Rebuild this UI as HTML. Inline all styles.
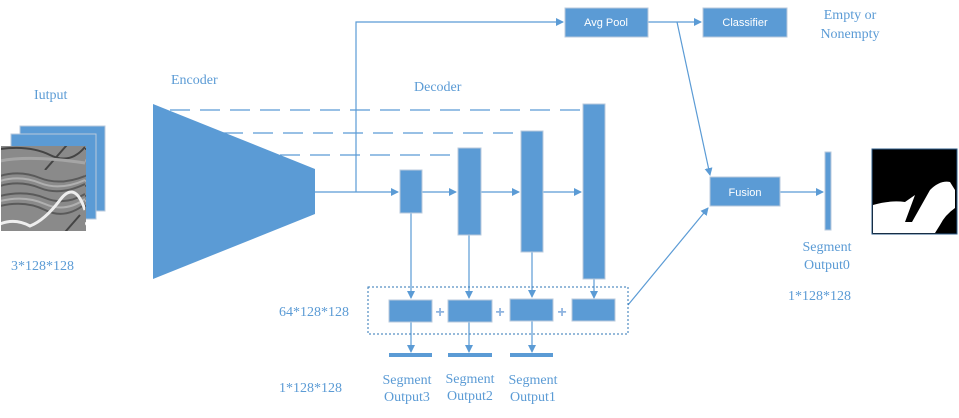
<!DOCTYPE html>
<html><head><meta charset="utf-8"><style>
body{margin:0;background:#fff}
svg text{font-family:"Liberation Serif",serif;fill:#5b9bd5;font-size:14px}
.s{font-family:"Liberation Sans",sans-serif;fill:#fff;font-size:11px}
</style></head><body>
<svg width="959" height="413" viewBox="0 0 959 413">
<defs>
<marker id="a" markerWidth="8" markerHeight="8" refX="7" refY="4" orient="auto" markerUnits="userSpaceOnUse"><path d="M0,0 L8,4 L0,8z" fill="#5b9bd5"/></marker>
<pattern id="seis" width="85" height="85" patternUnits="userSpaceOnUse">
<rect width="85" height="85" fill="#8a8a8a"/>
<path d="M0,6 Q20,0 40,8 T85,6 M0,16 Q20,10 40,18 T85,14 M0,26 Q25,20 45,28 T85,24 M0,36 Q25,30 45,40 T85,34" stroke="#5a5a5a" stroke-width="2" fill="none"/>
<path d="M0,11 Q20,5 40,13 T85,10 M0,31 Q25,25 45,34 T85,29" stroke="#b0b0b0" stroke-width="2" fill="none"/>
<path d="M0,54 Q15,48 30,56 Q45,50 60,30 T85,40" stroke="#eee" stroke-width="3" fill="none"/>
<path d="M0,64 Q30,60 50,70 T85,62 M45,85 L80,45" stroke="#444" stroke-width="2" fill="none"/>
<path d="M0,76 Q30,70 85,78" stroke="#a5a5a5" stroke-width="3" fill="none"/>
</pattern>
</defs>
<g fill="#5b9bd5" stroke="#b8c9dc" stroke-width="1">
<rect x="20" y="126" width="85" height="85"/>
<rect x="11" y="134" width="85" height="85"/>
</g>
<rect x="1" y="146" width="85" height="85" fill="url(#seis)"/>
<polygon points="153,104 315,169 315,214 153,279" fill="#5b9bd5"/>
<g stroke="#5b9bd5" stroke-width="1.3" stroke-dasharray="20,10" fill="none">
<line x1="170" y1="110" x2="583" y2="110"/>
<line x1="223" y1="133" x2="520" y2="133"/>
<line x1="280" y1="155" x2="458" y2="155"/>
</g>
<g stroke="#5b9bd5" stroke-width="1.2" fill="none">
<line x1="315" y1="192" x2="398" y2="192" marker-end="url(#a)"/>
<polyline points="356,192 356,22 563,22" marker-end="url(#a)"/>
<line x1="648" y1="22" x2="701" y2="22" marker-end="url(#a)"/>
<line x1="677" y1="22" x2="710" y2="175" marker-end="url(#a)"/>
<line x1="628" y1="305" x2="708" y2="208" marker-end="url(#a)"/>
<line x1="780" y1="192" x2="823" y2="192" marker-end="url(#a)"/>
<line x1="422" y1="192" x2="456" y2="192" marker-end="url(#a)"/>
<line x1="481" y1="192" x2="519" y2="192" marker-end="url(#a)"/>
<line x1="543" y1="192" x2="581" y2="192" marker-end="url(#a)"/>
<line x1="411" y1="213" x2="411" y2="298" marker-end="url(#a)"/>
<line x1="469" y1="235" x2="469" y2="298" marker-end="url(#a)"/>
<line x1="532" y1="252" x2="532" y2="297" marker-end="url(#a)"/>
<line x1="594" y1="279" x2="594" y2="298" marker-end="url(#a)"/>
<line x1="411" y1="322" x2="411" y2="352" marker-end="url(#a)"/>
<line x1="469" y1="322" x2="469" y2="352" marker-end="url(#a)"/>
<line x1="532" y1="321" x2="532" y2="352" marker-end="url(#a)"/>
</g>
<g fill="#5b9bd5" stroke="#b8c9dc" stroke-width="1">
<rect x="400" y="170" width="22" height="43"/>
<rect x="458" y="148" width="23" height="87"/>
<rect x="521" y="131" width="22" height="121"/>
<rect x="583" y="104" width="22" height="175"/>
<rect x="389" y="300" width="43" height="22"/>
<rect x="448" y="300" width="44" height="22"/>
<rect x="510" y="299" width="43" height="22"/>
<rect x="572" y="299" width="43" height="22"/>
<rect x="565" y="8" width="83" height="29"/>
<rect x="703" y="8" width="84" height="29"/>
<rect x="710" y="177" width="70" height="29"/>
<rect x="825" y="152" width="6" height="78"/>
</g>
<g fill="#5b9bd5">
<rect x="389" y="353" width="43" height="4"/>
<rect x="448" y="353" width="44" height="4"/>
<rect x="510" y="353" width="43" height="4"/>
</g>
<text x="440" y="317" text-anchor="middle" style="fill:#8fb4e0;font-family:'Liberation Sans';font-size:16px;font-weight:bold">+</text>
<text x="500" y="317" text-anchor="middle" style="fill:#8fb4e0;font-family:'Liberation Sans';font-size:16px;font-weight:bold">+</text>
<text x="562" y="317" text-anchor="middle" style="fill:#8fb4e0;font-family:'Liberation Sans';font-size:16px;font-weight:bold">+</text>
<rect x="368" y="287" width="260" height="47" fill="none" stroke="#2e75b6" stroke-width="1" stroke-dasharray="2,2"/>
<rect x="872" y="149" width="85" height="85" fill="#000" stroke="#2e5c8a"/>
<path d="M873,205 Q890,200 905,202 L915,195 L905,222 L912,222 L930,190 Q940,180 950,182 L955,190 L955,208 Q945,215 940,225 L935,233 L873,233z" fill="#fff"/>
<text class="s" x="606" y="26" text-anchor="middle">Avg Pool</text>
<text class="s" x="745" y="26" text-anchor="middle">Classifier</text>
<text class="s" x="745" y="196" text-anchor="middle">Fusion</text>
<text x="34" y="99">Iutput</text>
<text x="171" y="84">Encoder</text>
<text x="414" y="91">Decoder</text>
<text x="11" y="270">3*128*128</text>
<text x="279" y="316">64*128*128</text>
<text x="279" y="392">1*128*128</text>
<text x="788" y="300">1*128*128</text>
<text x="850" y="19" text-anchor="middle">Empty or</text>
<text x="850" y="38" text-anchor="middle">Nonempty</text>
<text x="827" y="251" text-anchor="middle">Segment</text>
<text x="827" y="269" text-anchor="middle">Output0</text>
<text x="407" y="384" text-anchor="middle">Segment</text>
<text x="407" y="401" text-anchor="middle">Output3</text>
<text x="470" y="383" text-anchor="middle">Segment</text>
<text x="470" y="400" text-anchor="middle">Output2</text>
<text x="533" y="384" text-anchor="middle">Segment</text>
<text x="533" y="401" text-anchor="middle">Output1</text>
</svg>
</body></html>
